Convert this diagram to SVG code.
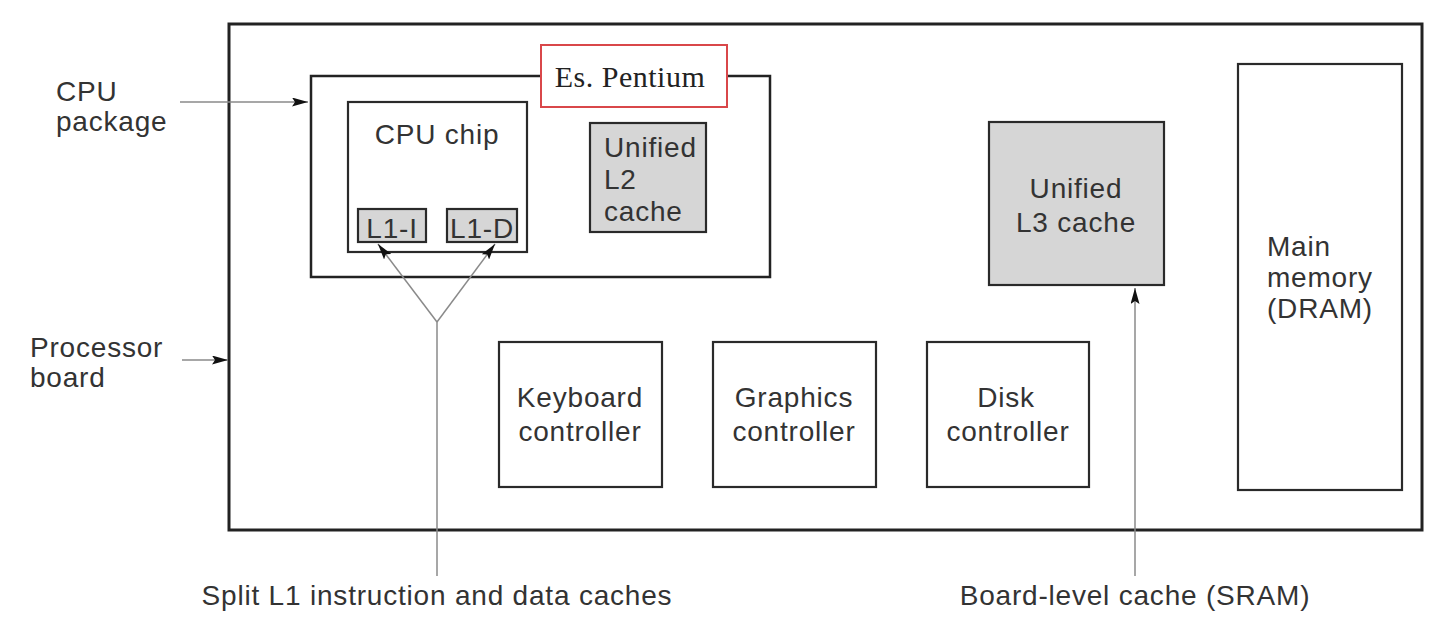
<svg xmlns="http://www.w3.org/2000/svg" width="1444" height="630" viewBox="0 0 1444 630">
<style>
  .box { fill: #ffffff; stroke: #2a2a2a; stroke-width: 2.2; }
  .gray { fill: #d6d6d6; stroke: #2a2a2a; stroke-width: 2.2; }
  .t { font-family: "Liberation Sans", Arial, sans-serif; font-size: 28px; fill: #333333; letter-spacing: 0.8px; }
  .c { text-anchor: middle; }
  .serif { font-family: "Liberation Serif", "Times New Roman", serif; font-size: 30px; fill: #222; letter-spacing: 0.5px; text-anchor: middle; }
  .conn { stroke: #8a8a8a; stroke-width: 1.5; fill: none; }
</style>
<defs>
  <marker id="ah" viewBox="0 0 16 9" refX="16" refY="4.5" markerWidth="16" markerHeight="9" markerUnits="userSpaceOnUse" orient="auto">
    <path d="M0,0 L16,4.5 L0,9 L3,4.5 Z" fill="#111"/>
  </marker>
</defs>
<rect width="1444" height="630" fill="#ffffff"/>

<g id="processor-board">
  <rect x="229" y="24" width="1193" height="506" fill="none" stroke="#222" stroke-width="3"/>
</g>
<g id="cpu-package">
  <rect x="311" y="76" width="459" height="201" fill="none" stroke="#222" stroke-width="2.5"/>
</g>
<g id="es-pentium">
  <rect x="541" y="45" width="186" height="62" fill="#ffffff" stroke="#d9474a" stroke-width="2"/>
  <text class="serif" x="630" y="87">Es. Pentium</text>
</g>
<g id="cpu-chip">
  <rect class="box" x="348" y="102" width="179" height="150"/>
  <text class="t c" x="437" y="144">CPU chip</text>
</g>
<g id="l1-i">
  <rect class="gray" x="358" y="209" width="68" height="33"/>
  <text class="t c" x="392" y="238">L1-I</text>
</g>
<g id="l1-d">
  <rect class="gray" x="447" y="209" width="70" height="33"/>
  <text class="t c" x="482" y="238">L1-D</text>
</g>
<g id="l2-cache">
  <rect class="gray" x="590" y="123" width="116" height="109"/>
  <text class="t" x="604" y="157">Unified</text>
  <text class="t" x="604" y="189">L2</text>
  <text class="t" x="604" y="221">cache</text>
</g>
<g id="l3-cache">
  <rect class="gray" x="989" y="122" width="175" height="163"/>
  <text class="t c" x="1076" y="198">Unified</text>
  <text class="t c" x="1076" y="232">L3 cache</text>
</g>
<g id="main-memory">
  <rect class="box" x="1238" y="64" width="164" height="426"/>
  <text class="t" x="1267" y="256">Main</text>
  <text class="t" x="1267" y="287">memory</text>
  <text class="t" x="1267" y="318">(DRAM)</text>
</g>
<g id="keyboard-controller">
  <rect class="box" x="499" y="342" width="163" height="145"/>
  <text class="t c" x="580" y="407">Keyboard</text>
  <text class="t c" x="580" y="441">controller</text>
</g>
<g id="graphics-controller">
  <rect class="box" x="713" y="342" width="163" height="145"/>
  <text class="t c" x="794" y="407">Graphics</text>
  <text class="t c" x="794" y="441">controller</text>
</g>
<g id="disk-controller">
  <rect class="box" x="927" y="342" width="162" height="145"/>
  <text class="t c" x="1006" y="407">Disk</text>
  <text class="t c" x="1008" y="441">controller</text>
</g>

<g id="labels">
  <text class="t" x="56" y="101">CPU</text>
  <text class="t" x="56" y="131">package</text>
  <text class="t" x="30" y="357">Processor</text>
  <text class="t" x="30" y="387">board</text>
  <text class="t c" x="437" y="605">Split L1 instruction and data caches</text>
  <text class="t c" x="1135" y="605">Board-level cache (SRAM)</text>
</g>

<g id="connectors">
  <line class="conn" x1="180" y1="102" x2="308" y2="102" marker-end="url(#ah)"/>
  <line class="conn" x1="182" y1="360" x2="228" y2="360" marker-end="url(#ah)"/>
  <line class="conn" x1="437" y1="576" x2="437" y2="322"/>
  <line class="conn" x1="437" y1="322" x2="378" y2="244" marker-end="url(#ah)"/>
  <line class="conn" x1="437" y1="322" x2="495" y2="244" marker-end="url(#ah)"/>
  <line class="conn" x1="1135" y1="576" x2="1135" y2="288" marker-end="url(#ah)"/>
</g>
</svg>
